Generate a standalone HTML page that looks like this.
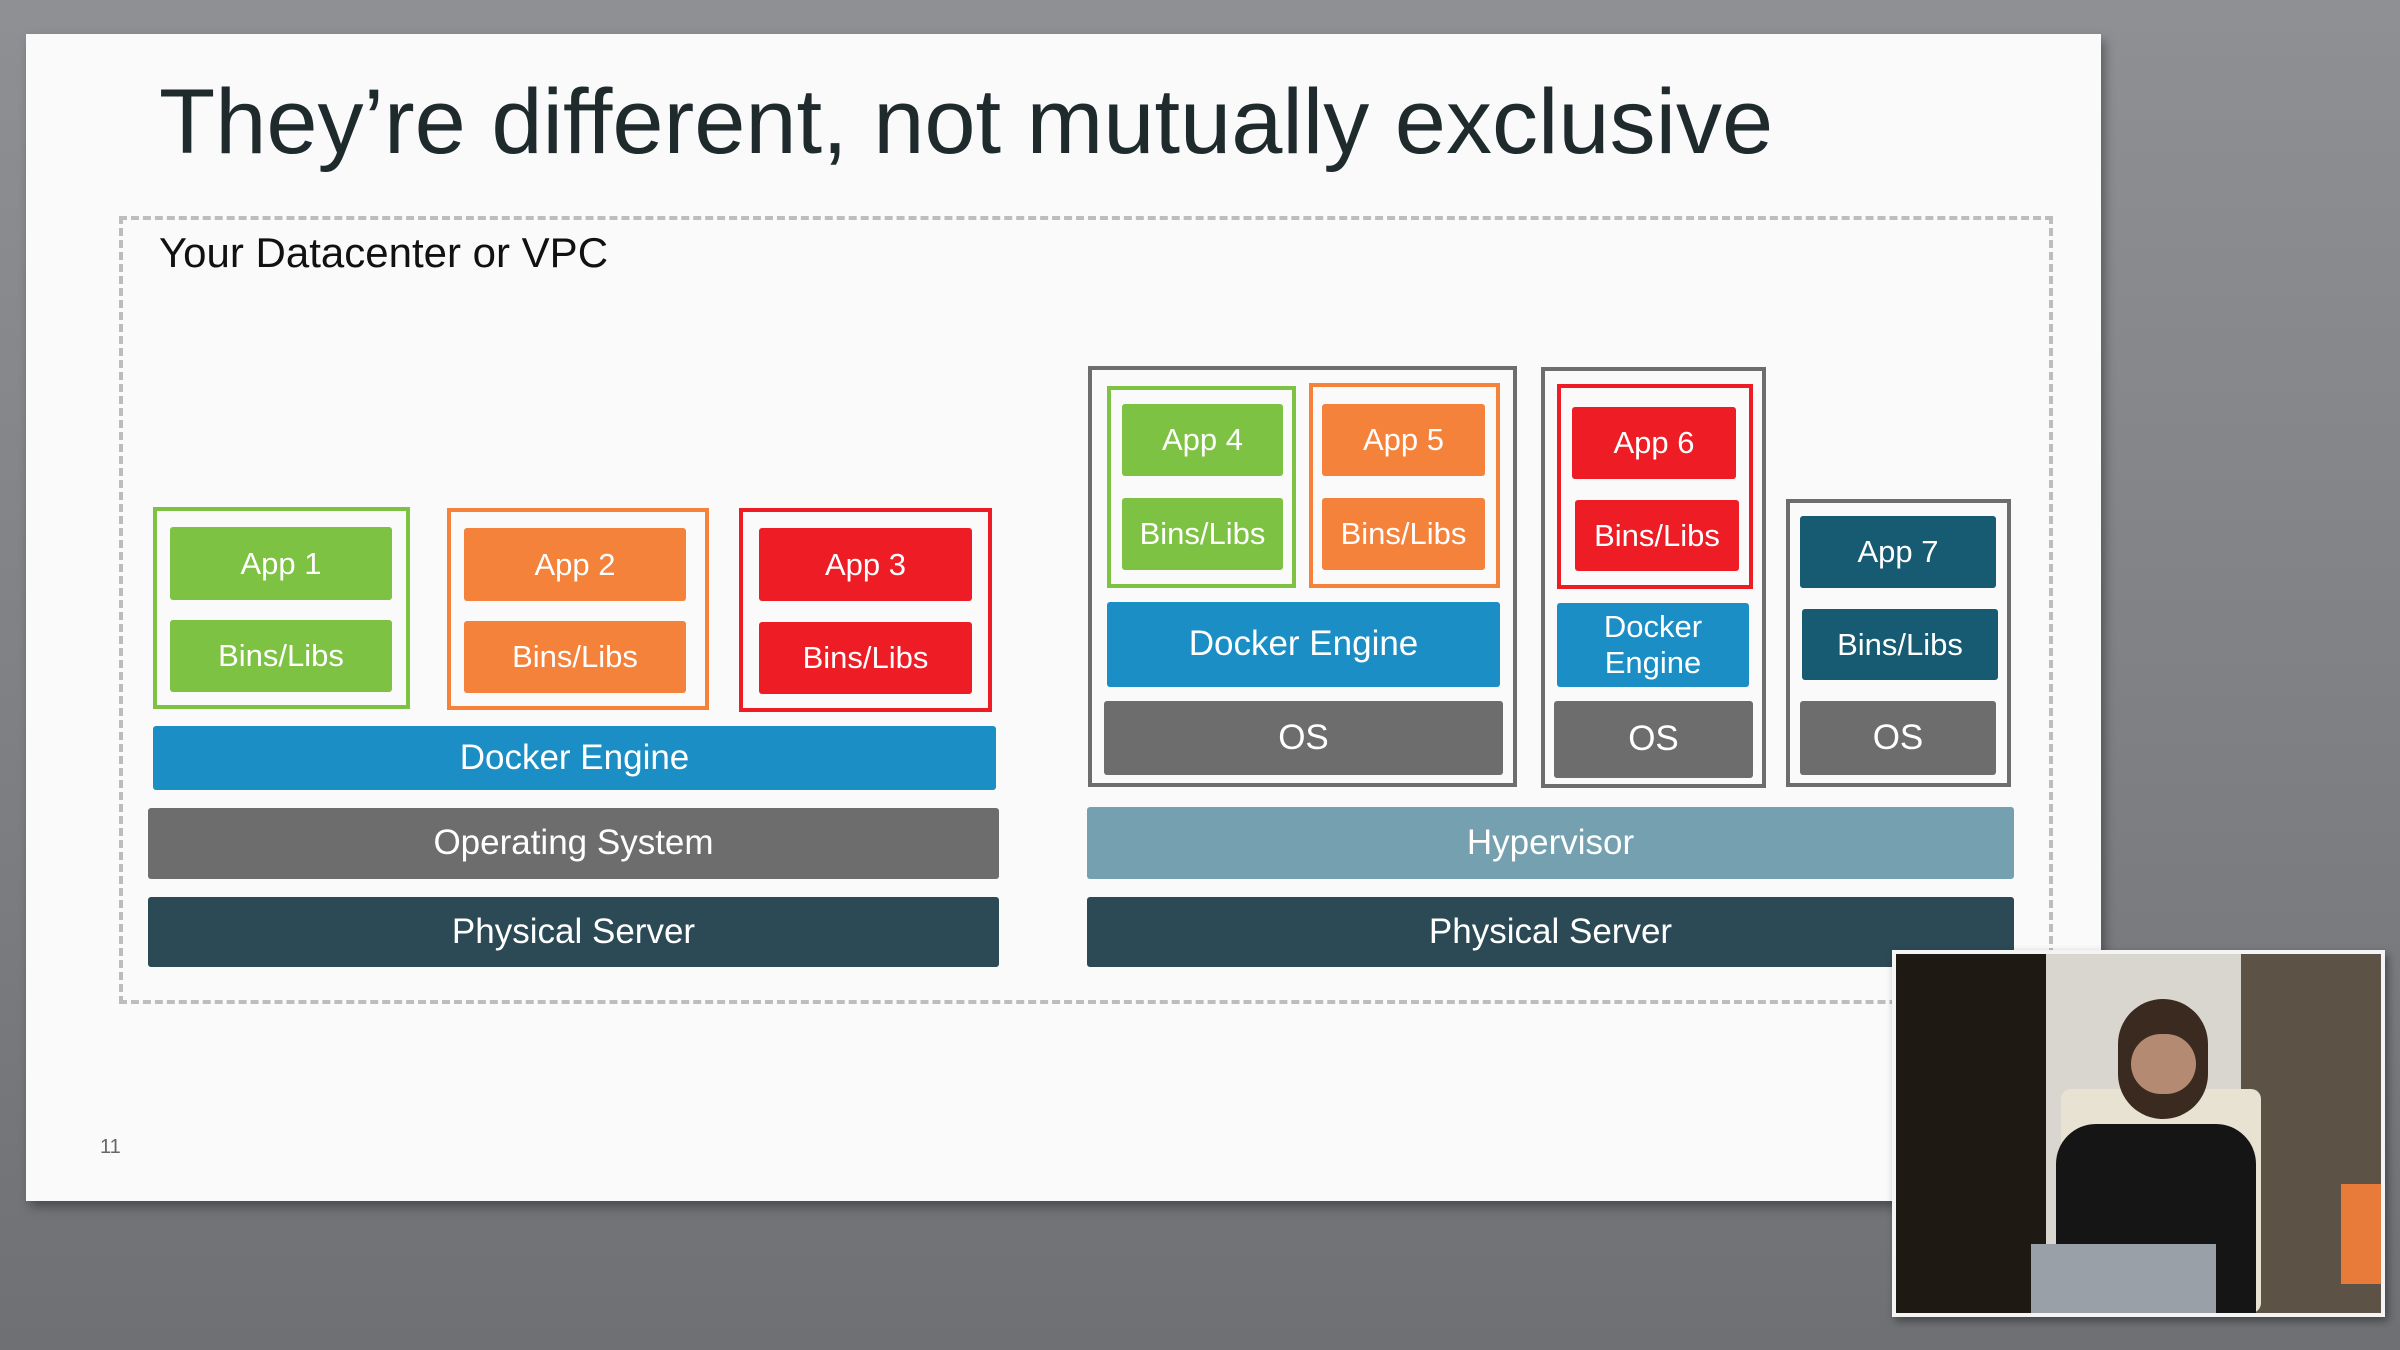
<!DOCTYPE html>
<html><head><meta charset="utf-8"><style>
*{margin:0;padding:0;box-sizing:border-box}
body{width:2400px;height:1350px;overflow:hidden;background:linear-gradient(180deg,#8e9094 0%,#7c7e82 60%,#6e7074 100%);position:relative;font-family:"Liberation Sans",sans-serif}
.a{position:absolute}
.b{position:absolute;display:flex;align-items:center;justify-content:center;color:#fff;text-align:center;line-height:1.15;border-radius:3px}
.g{background:#7dc242}.o{background:#f5823a}.r{background:#ee1c25}.d{background:#1b8ec5}.s{background:#6d6d6d}.p{background:#2c4a55}.t{background:#175b72}
.sm{font-size:31px}.lg{font-size:35px}
</style></head><body>
<div class="a" style="left:26px;top:34px;width:2075px;height:1167px;background:#fafafa;box-shadow:4px 6px 10px rgba(0,0,0,.35)"></div>
<div class="a" style="left:159px;top:70px;font-size:92px;color:#1e2a2c;white-space:nowrap">They’re different, not mutually exclusive</div>
<div class="a" style="left:119px;top:216px;width:1934px;height:788px;border:4px dashed #bdbdbd"></div>
<div class="a" style="left:159px;top:229px;font-size:42px;color:#111">Your Datacenter or VPC</div>
<div class="a" style="left:100px;top:1136px;font-size:20px;color:#666">11</div>

<!-- left -->
<div class="a" style="left:153px;top:507px;width:257px;height:202px;border:4px solid #7dc242"></div>
<div class="b g sm" style="left:170px;top:527px;width:222px;height:73px">App 1</div>
<div class="b g sm" style="left:170px;top:620px;width:222px;height:72px">Bins/Libs</div>
<div class="a" style="left:447px;top:508px;width:262px;height:202px;border:4px solid #f5823a"></div>
<div class="b o sm" style="left:464px;top:528px;width:222px;height:73px">App 2</div>
<div class="b o sm" style="left:464px;top:621px;width:222px;height:72px">Bins/Libs</div>
<div class="a" style="left:739px;top:508px;width:253px;height:204px;border:4px solid #ee1c25"></div>
<div class="b r sm" style="left:759px;top:528px;width:213px;height:73px">App 3</div>
<div class="b r sm" style="left:759px;top:622px;width:213px;height:72px">Bins/Libs</div>
<div class="b d lg" style="left:153px;top:726px;width:843px;height:64px">Docker Engine</div>
<div class="b s lg" style="left:148px;top:808px;width:851px;height:71px">Operating System</div>
<div class="b p lg" style="left:148px;top:897px;width:851px;height:70px">Physical Server</div>

<!-- right -->
<div class="a" style="left:1088px;top:366px;width:429px;height:421px;border:4px solid #6d6d6d"></div>
<div class="a" style="left:1107px;top:386px;width:189px;height:202px;border:4px solid #7dc242"></div>
<div class="b g sm" style="left:1122px;top:404px;width:161px;height:72px">App 4</div>
<div class="b g sm" style="left:1122px;top:498px;width:161px;height:72px">Bins/Libs</div>
<div class="a" style="left:1309px;top:383px;width:191px;height:205px;border:4px solid #f5823a"></div>
<div class="b o sm" style="left:1322px;top:404px;width:163px;height:72px">App 5</div>
<div class="b o sm" style="left:1322px;top:498px;width:163px;height:72px">Bins/Libs</div>
<div class="b d lg" style="left:1107px;top:602px;width:393px;height:85px">Docker Engine</div>
<div class="b s lg" style="left:1104px;top:701px;width:399px;height:74px">OS</div>

<div class="a" style="left:1541px;top:367px;width:225px;height:421px;border:4px solid #6d6d6d"></div>
<div class="a" style="left:1557px;top:384px;width:196px;height:205px;border:4px solid #ee1c25"></div>
<div class="b r sm" style="left:1572px;top:407px;width:164px;height:72px">App 6</div>
<div class="b r sm" style="left:1575px;top:500px;width:164px;height:71px">Bins/Libs</div>
<div class="b d sm" style="left:1557px;top:603px;width:192px;height:84px">Docker<br>Engine</div>
<div class="b s lg" style="left:1554px;top:701px;width:199px;height:77px">OS</div>

<div class="a" style="left:1786px;top:499px;width:225px;height:288px;border:4px solid #6d6d6d"></div>
<div class="b t sm" style="left:1800px;top:516px;width:196px;height:72px">App 7</div>
<div class="b t sm" style="left:1802px;top:609px;width:196px;height:71px">Bins/Libs</div>
<div class="b s lg" style="left:1800px;top:701px;width:196px;height:74px">OS</div>

<div class="b lg" style="left:1087px;top:807px;width:927px;height:72px;background:#74a0b0">Hypervisor</div>
<div class="b p lg" style="left:1087px;top:897px;width:927px;height:70px">Physical Server</div>

<!-- video inset -->
<div class="a" style="left:1892px;top:950px;width:493px;height:367px;background:#f4f4f4;box-shadow:3px 4px 8px rgba(0,0,0,.4)"></div>
<div class="a" style="left:1896px;top:954px;width:485px;height:359px;background:#1f1913;overflow:hidden">
  <div class="a" style="left:150px;top:0;width:215px;height:359px;background:#d9d6cf"></div>
  <div class="a" style="left:345px;top:0;width:140px;height:359px;background:#5c5245"></div>
  <div class="a" style="left:165px;top:135px;width:200px;height:224px;background:#e8e2d2;border-radius:10px"></div>
  <div class="a" style="left:160px;top:170px;width:200px;height:189px;background:#151515;border-radius:40px 40px 0 0"></div>
  <div class="a" style="left:222px;top:45px;width:90px;height:120px;background:#3a2a20;border-radius:45px"></div>
  <div class="a" style="left:235px;top:80px;width:65px;height:60px;background:#b58a72;border-radius:30px"></div>
  <div class="a" style="left:135px;top:290px;width:185px;height:69px;background:#9aa0a8"></div>
  <div class="a" style="left:445px;top:230px;width:40px;height:100px;background:#e87a3a"></div>
</div>
</body></html>
